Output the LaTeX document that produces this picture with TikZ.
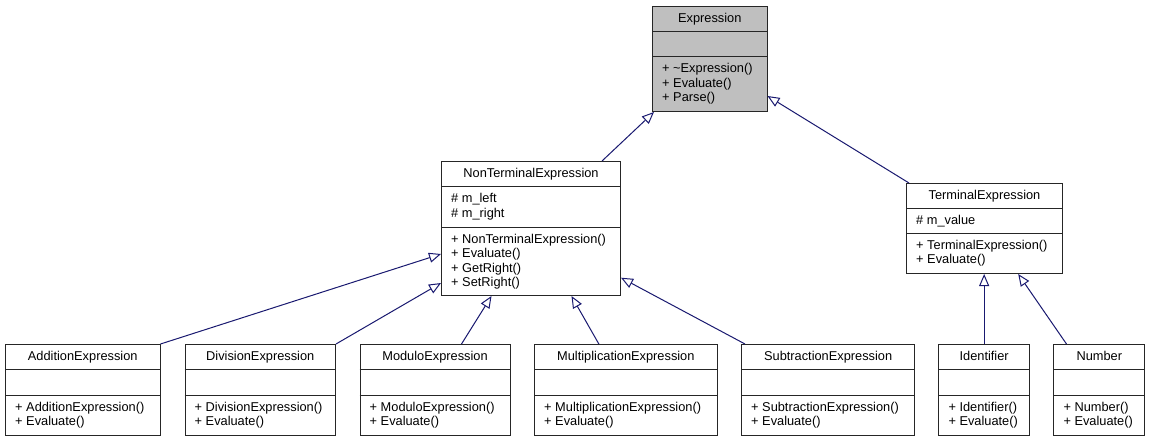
\documentclass[tikz,border=0pt]{standalone}
\usepackage{fontspec}
\setmainfont{Liberation Sans}
\usetikzlibrary{arrows.meta, positioning, calc}
\definecolor{edgeColor}{RGB}{25, 25, 112}
\definecolor{baseColor}{RGB}{191, 191, 191}
\tikzstyle{classbox} = [rectangle, draw=black!85, line width=1pt, fill=white, inner sep=0pt]
\tikzstyle{classrule} = [draw=black!85, line width=1pt]
\tikzstyle{classtitle} = [inner sep=0pt, text height=9.2pt, text depth=0pt, font=\fontsize{12.8}{14.4}\selectfont]
\tikzstyle{classtext} = [anchor=north west, inner sep=0pt, align=left, font=\fontsize{12.8}{14.4}\selectfont]
\tikzstyle{inherit} = [draw=edgeColor, line width=1pt, -{Triangle[open, length=12pt, width=10pt, fill=white]}]

\newcommand{\umlclass}[9]{%
  \node[classbox, #1, minimum width=#4, minimum height=#5, anchor=north west] (#2) at (#3) {};
  \draw[classrule] ([yshift=-25.5pt]#2.north west) -- ([yshift=-25.5pt]#2.north east);
  \draw[classrule] ([yshift=-25.5pt-#6pt]#2.north west) -- ([yshift=-25.5pt-#6pt]#2.north east);
  \node[classtitle] at ([yshift=-12.3pt]#2.north) {#7};
  \node[classtext] at ([xshift=10pt, yshift=-32.5pt]#2.north west) {#8};
  \node[classtext] at ([xshift=10pt, yshift=-32.3pt-#6pt]#2.north west) {#9};
}

\begin{document}
\begin{tikzpicture}[x=1pt, y=-1pt]
			\useasboundingbox[fill=white] (0,0) rectangle (1149,441);

			\umlclass{fill=baseColor}{expr}{652,6}{114.5}{105}{25}{Expression}{}{+ \textasciitilde Expression()\\+ Evaluate()\\+ Parse()}
			\umlclass{}{ntexp}{441,161}{179}{134}{40.5}{NonTerminalExpression}{\# m\_left\\\# m\_right}{+ NonTerminalExpression()\\+ Evaluate()\\+ GetRight()\\+ SetRight()}
			\umlclass{}{texp}{906,183}{156}{90}{24.5}{TerminalExpression}{\# m\_value}{+ TerminalExpression()\\+ Evaluate()}

			\umlclass{}{add}{5,344}{154.5}{91}{25.5}{AdditionExpression}{}{+ AdditionExpression()\\+ Evaluate()}
			\umlclass{}{div}{184.5,344}{150.5}{91}{25.5}{DivisionExpression}{}{+ DivisionExpression()\\+ Evaluate()}
			\umlclass{}{mod}{359.5,344}{150}{91}{25.5}{ModuloExpression}{}{+ ModuloExpression()\\+ Evaluate()}
			\umlclass{}{mul}{534,344}{182.7}{91}{25.5}{MultiplicationExpression}{}{+ MultiplicationExpression()\\+ Evaluate()}
			\umlclass{}{sub}{741,344}{173.3}{91}{25.5}{SubtractionExpression}{}{+ SubtractionExpression()\\+ Evaluate()}
			\umlclass{}{ident}{938.3,344}{90.7}{91}{25.5}{Identifier}{}{+ Identifier()\\+ Evaluate()}
			\umlclass{}{num}{1053.3,344}{91}{91}{25.5}{Number}{}{+ Number()\\+ Evaluate()}

			\draw[inherit] ([xshift=71pt]ntexp.north) -- ([xshift=2pt]expr.south west);
			\draw[inherit] ([xshift=3pt]texp.north west) -- ([yshift=16pt]expr.south east);
			\draw[inherit] (add.north east) -- ([yshift=42pt]ntexp.south west);
			\draw[inherit] (div.north east) -- ([yshift=13pt]ntexp.south west);
			\draw[inherit] ([xshift=26.5pt]mod.north) -- ([xshift=-39.5pt]ntexp.south);
			\draw[inherit] ([xshift=-27pt]mul.north) -- ([xshift=40.5pt]ntexp.south);
			\draw[inherit] ([xshift=4pt]sub.north west) -- ([yshift=18.3pt]ntexp.south east);
			\draw[inherit] (ident.north) -- (ident.north |- texp.south);
			\draw[inherit] ([xshift=-32.8pt]num.north) -- ([xshift=33.7pt]texp.south);
\end{tikzpicture}
\end{document}
